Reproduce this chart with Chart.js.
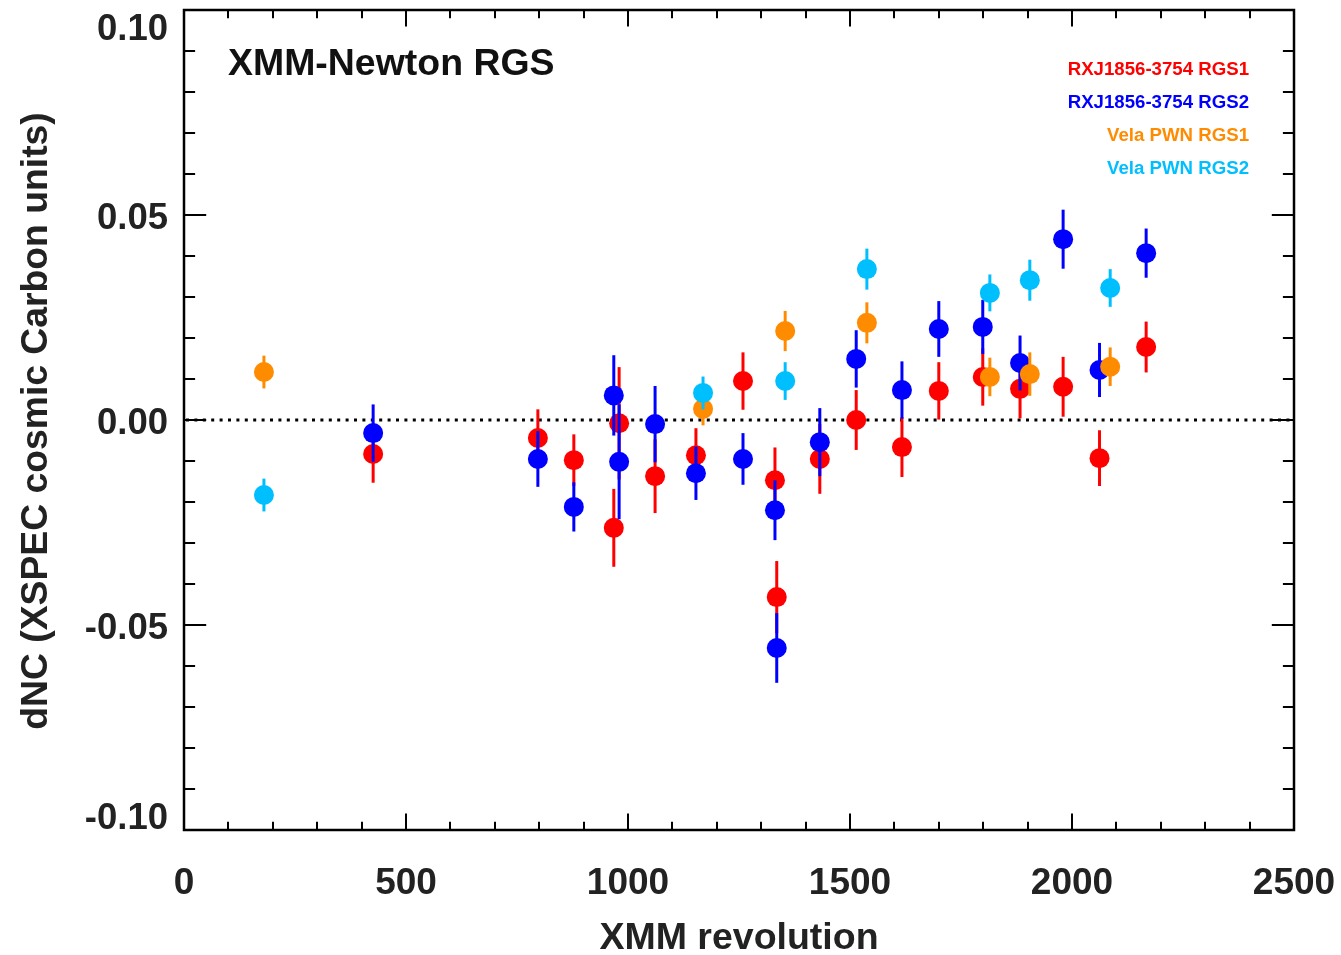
<!DOCTYPE html>
<html>
<head>
<meta charset="utf-8">
<script src="https://cdn.jsdelivr.net/npm/chart.js@4/dist/chart.umd.min.js"></script>
<style>
html,body{margin:0;padding:0;background:#fff;}
#wrap{width:1341px;height:955px;}
</style>
</head>
<body>
<div id="wrap"><canvas id="c" width="1341" height="955"></canvas></div>
<script>
// ---- data ----
const redX   = [426, 797, 878, 968, 980, 1061, 1153, 1259, 1331, 1335, 1432, 1514, 1617, 1700, 1799, 1883, 1980, 2062, 2167];
const redY   = [-0.0083, -0.0044, -0.0098, -0.0263, -0.0008, -0.0137, -0.0086, 0.0095, -0.0147, -0.0432, -0.0095, 0.0000, -0.0066, 0.0071, 0.0105, 0.0076, 0.0081, -0.0093, 0.0178];
const redErr = [0.0070, 0.0070, 0.0063, 0.0095, 0.0137, 0.0090, 0.0066, 0.0070, 0.0080, 0.0088, 0.0085, 0.0073, 0.0073, 0.0070, 0.0070, 0.0072, 0.0073, 0.0068, 0.0062];

const blueX   = [426, 797, 878, 968, 980, 1061, 1153, 1259, 1331, 1335, 1432, 1514, 1617, 1700, 1799, 1883, 1980, 2062, 2167];
const blueY   = [-0.0032, -0.0095, -0.0212, 0.0060, -0.0102, -0.0010, -0.0130, -0.0095, -0.0220, -0.0556, -0.0054, 0.0149, 0.0073, 0.0222, 0.0227, 0.0139, 0.0441, 0.0122, 0.0407];
const blueErr = [0.0070, 0.0068, 0.0060, 0.0098, 0.0140, 0.0093, 0.0065, 0.0063, 0.0073, 0.0085, 0.0083, 0.0070, 0.0070, 0.0068, 0.0066, 0.0067, 0.0072, 0.0066, 0.0060];

const orangeX   = [180, 1169, 1354, 1538, 1815, 1905, 2086];
const orangeY   = [0.0117, 0.0027, 0.0217, 0.0237, 0.0105, 0.0112, 0.0130];
const orangeErr = [0.0040, 0.0040, 0.0049, 0.0050, 0.0047, 0.0053, 0.0047];

const cyanX   = [180, 1169, 1354, 1538, 1815, 1905, 2086];
const cyanY   = [-0.0183, 0.0066, 0.0095, 0.0368, 0.0310, 0.0341, 0.0322];
const cyanErr = [0.0040, 0.0040, 0.0046, 0.0050, 0.0045, 0.0050, 0.0046];

const seriesNames = ['RXJ1856-3754 RGS1', 'RXJ1856-3754 RGS2', 'Vela PWN RGS1', 'Vela PWN RGS2'];
const xTickValues = [0, 500, 1000, 1500, 2000, 2500];
const xTickLabels = ['0', '500', '1000', '1500', '2000', '2500'];
const yTickValues = [0.10, 0.05, 0.00, -0.05, -0.10];
const yTickLabels = ['0.10', '0.05', '0.00', '-0.05', '-0.10'];

const COLORS = ['#ff0000', '#0000ff', '#ff8c00', '#00bfff'];
const FONT = '"Liberation Sans", Arial, Helvetica, sans-serif';

function pts(xs, ys, es) { return xs.map((x, i) => ({x: x, y: ys[i], e: es[i]})); }

function ds(label, data, color, order) {
  return {
    label: label, data: data, order: order,
    backgroundColor: color, borderColor: color, borderWidth: 0,
    pointRadius: 10, pointHoverRadius: 10, showLine: false
  };
}

const errorBars = {
  id: 'errorBars',
  beforeDatasetDraw(chart, args) {
    const ctx = chart.ctx, ys = chart.scales.y, a = chart.chartArea;
    const d = chart.data.datasets[args.index];
    ctx.save();
    ctx.beginPath(); ctx.rect(a.left, a.top, a.right - a.left, a.bottom - a.top); ctx.clip();
    ctx.strokeStyle = d.borderColor; ctx.lineWidth = 3;
    args.meta.data.forEach((el, i) => {
      const p = d.data[i];
      ctx.beginPath();
      ctx.moveTo(el.x, ys.getPixelForValue(p.y - p.e));
      ctx.lineTo(el.x, ys.getPixelForValue(p.y + p.e));
      ctx.stroke();
    });
    ctx.restore();
  }
};

function txt(ctx, s, x, y, size, align, color, sx) {
  ctx.save();
  ctx.font = 'bold ' + size + 'px ' + FONT;
  ctx.fillStyle = color;
  ctx.textBaseline = 'middle';
  ctx.textAlign = align;
  ctx.translate(x, y);
  ctx.scale(sx || 1, 1);
  ctx.fillText(s, 0, 0);
  ctx.restore();
}

const frame = {
  id: 'frame',
  beforeDatasetsDraw(chart) {
    const ctx = chart.ctx, a = chart.chartArea, ys = chart.scales.y;
    const y0 = ys.getPixelForValue(0);
    ctx.save();
    ctx.strokeStyle = '#000'; ctx.lineWidth = 3;
    ctx.setLineDash([3, 5.4]);
    ctx.beginPath(); ctx.moveTo(a.left + 2, y0); ctx.lineTo(a.right, y0); ctx.stroke();
    ctx.restore();
  },
  afterDraw(chart) {
    const ctx = chart.ctx, a = chart.chartArea, xs = chart.scales.x, ys = chart.scales.y;
    const H = a.bottom - a.top, W = a.right - a.left;
    const tx = 0.02 * H, ty = 0.02 * W;
    ctx.save();
    ctx.strokeStyle = '#000'; ctx.lineWidth = 2.5; ctx.lineCap = 'butt';
    ctx.strokeRect(a.left, a.top, W, H);
    ctx.lineWidth = 2;
    ctx.beginPath();
    for (let v = 0; v <= 2500; v += 100) {
      const px = Math.round(xs.getPixelForValue(v));
      const L = (v % 500 === 0) ? tx : tx / 2;
      ctx.moveTo(px, a.bottom); ctx.lineTo(px, a.bottom - L);
      ctx.moveTo(px, a.top); ctx.lineTo(px, a.top + L);
    }
    for (let k = -10; k <= 10; k++) {
      const v = k / 100;
      const py = Math.round(ys.getPixelForValue(v));
      const L = (k % 5 === 0) ? ty : ty / 2;
      ctx.moveTo(a.left, py); ctx.lineTo(a.left + L, py);
      ctx.moveTo(a.right, py); ctx.lineTo(a.right - L, py);
    }
    ctx.stroke();
    ctx.restore();

    const tc = '#222';
    xTickValues.forEach((v, i) => txt(ctx, xTickLabels[i], xs.getPixelForValue(v), 884, 37, 'center', tc));
    yTickValues.forEach((v, i) => {
      let py = ys.getPixelForValue(v) + 4;
      py = Math.max(30, Math.min(819, py));
      txt(ctx, yTickLabels[i], 168, py, 36.5, 'right', tc);
    });
    txt(ctx, 'XMM revolution', (a.left + a.right) / 2, 939, 37.5, 'center', tc);
    ctx.save();
    ctx.translate(37, 421); ctx.rotate(-Math.PI / 2);
    txt(ctx, 'dNC (XSPEC cosmic Carbon units)', 0, 0, 37.3, 'center', tc);
    ctx.restore();
    txt(ctx, 'XMM-Newton RGS', 228, 65, 36, 'left', '#111', 1.04);
    const ly = [70, 103, 136, 169];
    seriesNames.forEach((n, i) => txt(ctx, n, 1249, ly[i], 17.5, 'right', COLORS[i], 1.065));
  }
};

new Chart(document.getElementById('c'), {
  type: 'scatter',
  data: {
    datasets: [
      ds(seriesNames[0], pts(redX, redY, redErr), COLORS[0], 4),
      ds(seriesNames[1], pts(blueX, blueY, blueErr), COLORS[1], 3),
      ds(seriesNames[2], pts(orangeX, orangeY, orangeErr), COLORS[2], 2),
      ds(seriesNames[3], pts(cyanX, cyanY, cyanErr), COLORS[3], 1)
    ]
  },
  options: {
    responsive: false, animation: false, devicePixelRatio: 1,
    layout: {padding: {left: 184, top: 10, right: 47, bottom: 125}},
    plugins: {legend: {display: false}, tooltip: {enabled: false}, title: {display: false}},
    scales: {
      x: {type: 'linear', min: 0, max: 2500, display: false},
      y: {type: 'linear', min: -0.1, max: 0.1, display: false}
    }
  },
  plugins: [errorBars, frame]
});
</script>
</body>
</html>
